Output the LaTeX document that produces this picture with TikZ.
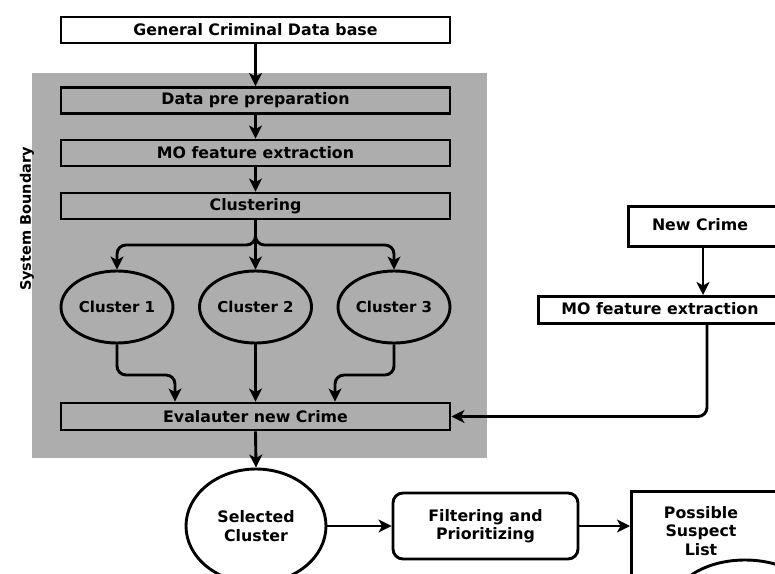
\documentclass[tikz,border=0pt]{standalone}
\usepackage{fontspec}
\setmainfont{DejaVu Sans}
\usetikzlibrary{arrows.meta,shapes.geometric}
\begin{document}
\begin{tikzpicture}[x=1pt,y=-1pt,
  lw/.style={line width=2.9pt},
  txt/.style={font=\fontsize{15.8}{18.5}\selectfont\bfseries,align=center,inner sep=0pt},
  box/.style={draw,lw,txt,minimum height=26pt,minimum width=389pt},
  ell/.style={draw,lw,ellipse,txt,font=\fontsize{15}{18.5}\selectfont\bfseries},
  arr/.style={lw,-{Stealth[length=13pt,width=13pt,inset=3.5pt]},rounded corners=9pt}]
\useasboundingbox (0,0) rectangle (775,573);
\clip (0,0) rectangle (775,573);
% system boundary
\fill[black!32] (32,73) rectangle (487,458);
\node[txt,rotate=90,font=\fontsize{14.5}{16}\selectfont\bfseries] (sb) at (27,219) {System Boundary};
% main column
\node[box] (gcd) at (255.5,30) {General Criminal Data base};
\node[box] (dpp) at (255.5,100.5) {Data pre preparation};
\node[box] (mo) at (255.5,153) {MO feature extraction};
\node[box] (clus) at (255.5,206) {Clustering};
\node[ell,minimum width=112pt,minimum height=72pt] (c1) at (117,307) {Cluster 1};
\node[ell,minimum width=112pt,minimum height=72pt] (c2) at (255.5,307) {Cluster 2};
\node[ell,minimum width=112pt,minimum height=72pt] (c3) at (394,307) {Cluster 3};
\node[box,minimum height=27pt] (eval) at (255.5,416.5) {Evalauter new Crime};
\node[ell,font=\fontsize{15.8}{18.5}\selectfont\bfseries,minimum width=140pt,minimum height=114pt] (sel) at (256,526) {Selected\\Cluster};
\node[draw,lw,txt,rounded corners=10pt,minimum width=185pt,minimum height=66pt] (filt) at (485.5,526) {Filtering and\\Prioritizing};
\node[draw,lw,anchor=north west,minimum width=200pt,minimum height=130pt] (poss) at (630,490) {};
\node[txt] (posst) at (701,531) {Possible\\Suspect\\List};
\node[draw,lw,ellipse,minimum width=144pt,minimum height=90pt] (cut) at (745,605) {};
% right column
\node[draw,lw,anchor=north west,minimum width=200pt,minimum height=40pt] (nc) at (627,205) {};
\node[txt] (nct) at (700,225) {New Crime};
\node[draw,lw,anchor=north west,minimum width=280pt,minimum height=27pt] (mo2) at (537,295) {};
\node[txt] (mo2t) at (660,308.5) {MO feature extraction};
% connectors
\draw[arr] (gcd) -- (dpp);
\draw[arr] (dpp) -- (mo);
\draw[arr] (mo) -- (clus);
\draw[arr] (clus.south) -- (c2.north);
\draw[arr] (clus.south) -- (255.5,245) -| (c1.north);
\draw[arr] (clus.south) -- (255.5,245) -| (c3.north);
\draw[arr] (c1.south) |- (175,375) -- (175,0 |- eval.north);
\draw[arr] (c2.south) -- (c2.south |- eval.north);
\draw[arr] (c3.south) |- (335,375) -- (335,0 |- eval.north);
\draw[arr] (eval.south) -- (sel.north);
\draw[arr] (sel.east) -- (filt.west);
\draw[arr] (filt.east) -- (poss.west |- filt.east);
\draw[arr] (703,0 |- nc.south) -- (703,0 |- mo2.north);
\draw[arr] (707,0 |- mo2.south) |- (eval.east);
\end{tikzpicture}
\end{document}
